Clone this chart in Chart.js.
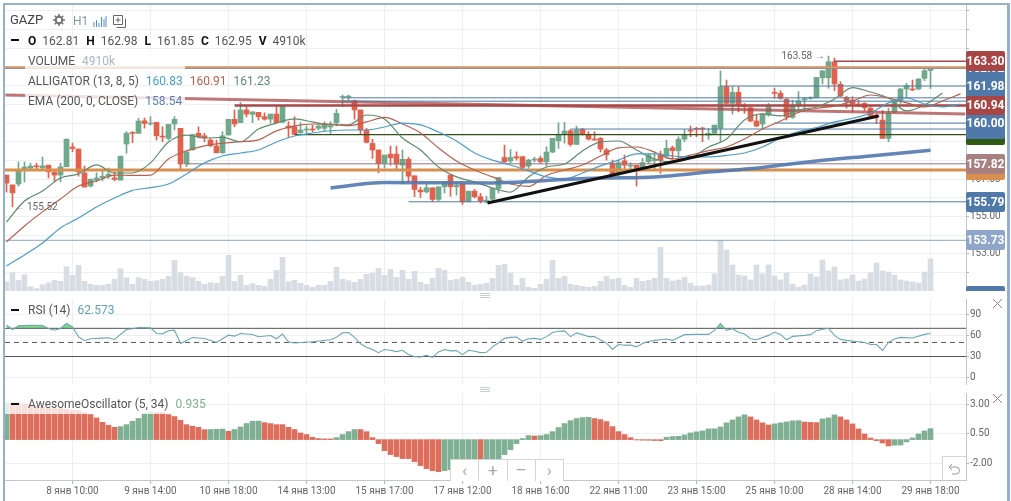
<!DOCTYPE html>
<html>
<head>
<meta charset="utf-8">
<script src="https://cdn.jsdelivr.net/npm/chart.js@4"></script>
<style>
html, body { margin: 0; padding: 0; background: #fff; }
body { width: 1011px; height: 501px; overflow: hidden; position: relative; font-family: Roboto, sans-serif; color: #555; }
canvas { position: absolute; left: 5px; }
#frame { position: absolute; left: 3px; top: 3px; width: 1002px; height: 498px; border: solid #93b2ce; border-width: 2px 3px 0 2px; pointer-events: none; }
.row { position: absolute; left: 28px; height: 20px; line-height: 20px; font-size: 12px; white-space: nowrap; }
.row span { margin-right: 7px; }
.row b { margin-right: 6px; }
.fade { position: absolute; background: rgba(255,255,255,.78); }
b { color: #111; font-weight: 700; }
.dash { position: absolute; left: 11px; width: 8px; height: 2px; background: #111; }
#tags { position: absolute; left: 966px; top: 3px; width: 40px; height: 288px; overflow: hidden; }
.tag { position: absolute; left: 0; width: 39px; height: 20px; line-height: 20px; border-radius: 2px; color: #fff; font-size: 12px; font-weight: 700; text-align: center; }
.note { position: absolute; font-size: 10px; color: #666; white-space: nowrap; line-height: 12px; }
#nav { position: absolute; left: 450px; top: 459px; width: 112px; height: 21px; background: #fff; border: 1px solid #d4d4d4; border-bottom: 0; display: flex; }
#nav div { flex: 1; text-align: center; font-size: 17px; line-height: 21px; color: #aaa; border-right: 1px solid #d4d4d4; }
#nav div:last-child { border-right: 0; }
#undo { position: absolute; left: 942px; top: 456px; width: 23px; height: 23px; background: #fff; border: 1px solid #d4d4d4; border-right: 0; border-bottom: 0; }
.grip { position: absolute; left: 480px; width: 10px; height: 1px; background: #c5ced6; }
svg { position: absolute; }
</style>
</head>
<body>
<canvas id="mainCanvas" width="1001" height="288" style="top:3px"></canvas>
<canvas id="rsiCanvas" width="1001" height="86" style="top:299px"></canvas>
<canvas id="aoCanvas" width="1001" height="108" style="top:393px"></canvas>

<div id="tags"></div>

<div class="row" style="left:10px;top:10px;font-size:13px;color:#444">GAZP</div>
<svg style="left:53px;top:14px" width="12" height="12" viewBox="0 0 12 12"><circle cx="6" cy="6" r="3.3" fill="none" stroke="#777" stroke-width="2.2"/><path d="M6 0v12M0 6h12M1.8 1.8l8.4 8.4M10.2 1.8l-8.4 8.4" stroke="#777" stroke-width="1.6" stroke-dasharray="2 8 2"/></svg>
<div class="row" style="left:73px;top:11px;font-size:12px;color:#8a96a3">H1</div>
<svg style="left:93px;top:15px" width="14" height="12" viewBox="0 0 14 12"><path d="M1 7v5M3.5 5v7M6 8v4M8.500 2v10M11 4v8M13 1v11" stroke="#4f8fc9" stroke-width="1"/></svg>
<svg style="left:113px;top:15px" width="13" height="13" viewBox="0 0 13 13"><path d="M.5.5h9v9h-9zM3.500 12.500h9v-9M5 2.500v5M2.500 5h5" fill="none" stroke="#666"/></svg>

<div class="dash" style="top:39px"></div>
<div class="row" style="top:31px"><b>O</b><span>162.81</span><b>H</b><span>162.98</span><b>L</b><span>161.85</span><b>C</b><span>162.95</span><b>V</b><span>4910k</span></div>

<div class="fade" style="left:25px;top:52px;width:160px;height:18px"></div>
<div class="row" style="top:51px"><span>VOLUME</span><span style="color:#a9b4bf">4910k</span></div>
<div class="row" style="top:71px"><span>ALLIGATOR (13, 8, 5)</span><span style="color:#4b9ec9">160.83</span><span style="color:#b8604f">160.91</span><span style="color:#5f8c6c">161.23</span></div>
<div class="fade" style="left:25px;top:92px;width:160px;height:18px"></div>
<div class="row" style="top:91px"><span>EMA (200, 0, CLOSE)</span><span style="color:#5a7fb5">158.54</span></div>

<div class="note" id="lowNote">&#8592; 155.52</div>
<div class="note" id="highNote">163.58 &#8594;</div>

<div class="grip" style="top:293px"></div><div class="grip" style="top:295px"></div><div class="grip" style="top:297px"></div>
<div class="grip" style="top:387px"></div><div class="grip" style="top:389px"></div><div class="grip" style="top:391px"></div>

<div class="dash" style="top:309px"></div>
<div class="row" style="top:300px"><span>RSI (14)</span><span style="color:#5f9fb2">62.573</span></div>
<svg style="left:992px;top:298px" width="11" height="11"><path d="M1 1l9 9M10 1l-9 9" stroke="#888"/></svg>

<div class="fade" style="left:5px;top:402px;width:200px;height:12px"></div>
<div class="dash" style="top:403px"></div>
<div class="row" style="top:394px"><span>AwesomeOscillator (5, 34)</span><span style="color:#7fb093">0.935</span></div>
<svg style="left:992px;top:393px" width="11" height="11"><path d="M1 1l9 9M10 1l-9 9" stroke="#888"/></svg>

<div id="nav"><div>&#8249;</div><div>+</div><div>&#8211;</div><div>&#8250;</div></div>
<div id="undo"><svg style="left:5px;top:6px" width="13" height="12" viewBox="0 0 13 12"><path d="M4 1L1 4l3 3M1 4h7a3.500 3.500 0 0 1 0 7H4" fill="none" stroke="#999"/></svg></div>
<div id="frame"></div>

<script>
const xTickBars = [11, 24, 37, 50, 63, 76, 89, 102, 115, 128, 141, 154]
const xTickLabels = ['8 янв 10:00', '9 янв 14:00', '10 янв 18:00', '14 янв 13:00', '15 янв 17:00', '17 янв 12:00',
    '18 янв 16:00', '22 янв 11:00', '23 янв 15:00', '25 янв 10:00', '28 янв 14:00', '29 янв 18:00']

// hourly candles, oldest first
const opens = [
    157.22,156.69,156.74,157.49,157.59,157.71,157.61,157.75,157.38,157.22,
    157.66,158.72,158.61,157.33,156.63,156.95,157.06,157.16,157.07,156.95,
    158.88,159.48,159.45,160.12,159.95,160.04,159.30,159.18,159.95,159.72,
    157.81,158.56,159.45,159.32,159.09,158.77,158.41,159.36,160.20,160.02,
    160.70,160.47,160.57,160.34,160.21,160.48,160.04,159.84,159.80,159.48,
    159.63,159.68,159.72,159.72,159.79,160.02,161.37,161.39,161.19,160.70,
    159.63,158.91,158.56,157.84,158.34,158.34,157.75,158.06,157.18,156.42,
    156.32,156.54,155.92,156.59,157.22,156.59,156.74,155.79,156.36,156.06,
    155.81,155.93,156.50,158.16,157.97,158.20,158.20,157.70,158.02,158.11,
    157.93,158.45,159.05,159.40,159.59,158.86,159.66,159.36,159.13,159.18,
    158.56,157.84,157.31,157.98,157.70,157.75,157.58,157.93,157.99,158.29,
    158.24,158.68,158.52,159.14,159.60,159.71,159.73,159.36,159.45,159.72,
    161.94,161.05,161.64,160.96,160.82,160.11,159.95,160.43,161.62,161.59,
    161.27,160.30,160.93,161.25,161.31,161.35,162.42,162.42,163.28,162.07,
    161.37,161.23,161.02,161.05,160.79,160.43,160.16,159.18,160.60,161.19,
    161.82,161.82,161.82,162.39,162.81]
const highs = [
    157.22,156.69,157.92,157.92,157.86,157.86,158.18,157.75,157.40,157.86,
    159.14,158.93,158.61,157.70,157.00,157.34,157.49,157.59,157.39,158.23,
    159.54,159.54,160.25,160.27,160.34,160.04,159.80,159.93,160.34,159.72,
    158.46,159.39,159.80,159.45,159.18,159.09,159.54,160.20,160.70,161.11,
    160.87,160.60,160.57,160.55,160.48,160.91,160.91,160.07,160.34,160.02,
    159.84,159.89,159.98,160.07,160.07,160.73,161.50,161.50,161.23,160.70,
    159.72,159.13,158.56,158.29,158.77,158.77,158.56,158.17,157.18,156.56,
    156.77,156.54,156.59,156.86,157.22,156.81,156.74,156.36,156.45,156.24,
    156.09,156.50,157.09,158.82,158.59,158.46,158.23,158.07,158.17,158.23,
    158.73,159.18,160.02,160.04,159.66,159.84,159.72,159.54,159.54,159.23,
    158.65,158.02,158.02,158.29,157.88,157.75,158.11,158.38,158.46,158.50,
    159.09,158.77,159.27,159.66,159.84,159.77,159.77,159.72,159.89,162.79,
    162.30,161.94,161.94,161.05,160.87,160.43,160.52,161.05,161.87,161.73,
    161.32,161.23,161.68,161.37,161.41,162.44,162.80,163.58,163.48,162.21,
    161.44,161.41,161.23,161.09,160.91,160.48,160.66,160.79,161.27,161.86,
    162.12,162.30,162.39,162.92,162.98]
const lows = [
    156.31,155.52,156.63,156.85,157.49,157.54,157.54,157.06,156.86,156.86,
    157.66,158.46,157.16,156.58,156.58,156.85,156.91,157.04,156.91,156.95,
    158.39,158.95,159.45,159.73,159.89,159.09,159.00,159.09,159.63,157.52,
    157.66,158.56,159.20,159.00,158.73,158.41,158.38,159.36,159.80,160.02,
    160.34,160.02,160.16,160.16,160.00,160.02,160.04,159.23,159.40,159.45,
    159.46,159.53,159.63,159.59,159.45,159.84,160.87,161.23,160.20,159.41,
    158.93,158.11,157.34,157.59,157.75,157.49,156.74,156.86,156.06,156.02,
    156.26,155.79,155.84,156.26,156.09,156.15,155.65,155.79,155.99,155.72,
    155.72,155.88,156.26,157.88,157.86,158.02,157.52,157.59,157.92,157.84,
    157.70,158.41,158.65,158.93,158.77,158.86,159.36,159.09,159.09,158.46,
    158.02,157.13,157.13,157.33,157.52,156.63,157.52,157.84,157.52,157.31,
    158.11,158.06,158.11,159.00,159.27,159.27,159.00,159.13,159.41,159.00,
    161.02,160.48,160.60,160.52,160.07,159.80,159.72,160.37,161.32,161.27,
    160.16,160.25,160.70,160.70,161.27,161.35,162.09,161.86,161.73,161.41,
    160.80,160.60,160.87,160.66,160.34,159.98,159.18,159.00,160.55,161.05,
    161.37,161.73,161.77,162.27,161.85]
const closes = [
    156.79,156.27,157.45,157.65,157.70,157.66,157.71,157.39,157.22,157.66,
    159.14,158.64,157.38,156.58,157.00,157.06,157.16,157.27,156.99,158.23,
    159.45,159.45,160.11,159.98,159.98,159.32,159.25,159.93,160.20,157.81,
    158.46,159.39,159.27,159.21,158.79,158.41,159.32,160.20,159.95,160.70,
    160.48,160.60,160.34,160.21,160.48,160.02,160.91,159.73,159.40,159.63,
    159.68,159.63,159.84,159.95,159.82,160.52,161.41,161.42,160.70,159.63,
    158.97,158.56,157.84,158.29,158.14,157.81,158.06,157.16,156.45,156.32,
    156.54,155.92,156.59,156.86,156.59,156.68,155.79,156.36,156.06,155.84,
    155.88,156.50,157.09,157.93,158.16,158.13,157.63,158.02,158.06,157.93,
    158.45,159.18,159.40,159.57,158.86,159.63,159.40,159.14,159.09,158.61,
    158.31,157.22,157.88,157.75,157.75,157.52,157.88,158.29,158.05,158.02,
    158.65,158.52,159.13,159.39,159.57,159.66,159.68,159.45,159.89,161.94,
    161.05,161.64,161.00,160.87,160.11,159.84,160.48,160.93,161.59,161.32,
    160.34,160.93,161.18,161.29,161.34,162.44,162.80,163.28,162.09,161.44,
    161.19,161.02,160.93,160.82,160.37,160.32,159.18,160.52,161.23,161.82,
    162.00,161.77,162.35,162.80,162.95]

// volume in thousands
const volumes = [
    1430,2810,1640,2500,660,360,970,1280,1640,1480,
    3730,2400,3930,1480,1020,870,870,1020,1790,3420,
    2040,1020,2040,1790,1480,1580,1790,2250,4700,2810,
    2250,2040,1480,1020,1280,1180,2250,5470,1480,2400,
    870,1120,870,720,1790,3170,5160,1430,1640,1180,
    870,560,870,870,1480,3630,1790,1580,1330,1790,
    2560,2710,3470,2400,3320,2100,3170,1790,3010,1330,
    1020,1940,3470,3170,1640,1790,2100,1330,870,1020,
    1180,1940,3930,4090,2710,870,1940,560,410,1020,
    1790,4700,1940,2250,1020,870,720,560,720,1480,
    2250,1790,1940,870,560,1940,1480,1640,1940,6690,
    1940,1530,1690,2100,1180,770,770,920,2610,7720,
    6290,3990,2450,2300,1690,3990,2610,3990,2300,1690,
    2760,1070,610,920,2610,2150,4750,3070,3680,1690,
    1840,2450,1530,1840,2760,4290,3070,2910,2450,1690,
    1530,1380,1230,2910,4910]

// alligator lines, one reading every third bar (they run past the last candle)
const lipsValues = [154.71,155.83,156.37,157.06,157.28,157.76,157.33,157.33,157.87,158.99,159.36,159.20,159.23,159.00,159.68,160.00,
    160.22,160.06,159.90,159.90,160.43,160.22,159.20,158.56,157.65,157.12,156.85,156.53,156.31,157.12,157.65,157.81,158.51,158.99,
    159.04,158.56,158.08,157.92,158.13,158.72,159.15,160.17,160.49,160.38,160.70,160.86,161.29,161.90,161.66,161.34,160.65,160.97,161.61]
const teethValues = [153.64,154.50,155.25,155.94,156.63,156.90,157.22,157.20,157.22,158.08,158.51,158.78,158.93,159.00,159.10,159.58,
    159.85,159.95,159.95,159.86,160.06,160.30,159.95,159.47,158.67,157.97,157.49,157.12,156.74,156.61,157.20,157.49,157.76,158.24,
    158.67,158.72,158.45,158.08,158.29,158.53,158.72,159.15,159.68,160.11,160.57,160.78,160.91,161.18,161.50,161.34,161.08,160.86,161.18,161.56]
const jawValues = [152.36,152.95,153.59,154.39,154.92,155.51,155.99,156.40,156.55,156.74,157.28,157.87,158.24,158.40,158.56,158.99,
    159.31,159.47,159.59,159.63,159.63,159.79,160.00,159.90,159.52,159.04,158.40,158.02,157.76,157.44,157.12,157.01,157.33,157.71,
    158.02,158.35,158.35,158.24,158.20,158.19,158.27,158.40,158.72,159.20,159.55,159.76,160.06,160.25,160.54,161.08,161.34,161.02,160.86,161.02]
const alligatorStep = 3

const emaBars = [54, 63, 72, 81, 90, 99, 108, 117, 126, 135, 144, 154]
const emaValues = [156.53, 156.82, 156.81, 156.80, 156.93, 157.06, 157.12, 157.38, 157.63, 157.97, 158.24, 158.54]

const trendBars = [80.17, 145.33]
const trendPrices = [155.73, 160.38]
const slopeBars = [-0.2, 159.8]
const slopePrices = [161.50, 160.49]

// horizontal levels: price and the bar each one starts from
const levelPrices = [163.30, 162.99, 162.92, 161.98, 161.35, 161.17, 160.94, 160.00, 159.68, 159.38, 157.82, 157.49, 155.79, 153.73]
const levelStarts = [138, -1, -1, 119, 56, 56, 38, 128, 94, 48, 30, -1, 67, -1]

// price tags down the axis, later ones sit on top
const tagPrices = [150.75, 153.73, 155.79, 157.49, 157.82, 159.38, 159.68, 160.00, 161.17, 161.35, 160.94, 162.92, 161.98, 163.30]

const rsiBars = [0,1,2,4,6,7,8,9,10,11,12,13,14,16,17,18,20,21,22,24,25,26,27,28,29,31,33,35,37,38,39,41,42,44,45,46,47,48,51,
    54,55,56,57,58,59,60,61,62,63,64,65,66,67,68,69,70,71,72,73,74,75,76,77,78,79,80,81,82,83,84,85,86,87,88,89,90,91,92,93,94,95,
    96,97,98,99,100,101,102,103,104,105,106,107,108,109,110,111,113,115,117,118,119,120,121,122,123,124,125,127,128,129,130,131,
    133,134,135,136,137,138,139,140,142,143,144,145,146,147,148,149,151,153,154]
const rsiValues = [74.4,68.3,73.5,74.4,74,69.7,67.4,69.7,76.8,72.1,58,52.4,55.2,56.1,56.6,54.2,68.3,69.3,71.2,70.7,62.7,62.2,66.5,67.4,48.6,57,55.6,50,60.3,58.9,62.7,61.3,58,59.9,55.2,61.8,50.9,49.1,50.9,
    53.9,57.2,63.5,64,57.2,48,43.3,39.9,35.5,39.9,38.9,37,38.9,33,29.8,29.3,31.7,28.8,36.5,39.9,38,38.4,32.6,38.9,37.5,35.5,36,43.7,49.5,55.8,57.2,57.7,51.9,55.3,55.8,54.3,58.2,64,65.9,66.4,58.2,63.5,
    61.1,58.2,58.2,53.4,49,40.4,47.1,46.1,46.1,43.7,48.6,51.4,52.9,53.9,54.8,52.9,61,61.4,61.4,67,76.7,67,69.5,64.3,61.9,55.2,53.8,60,64.3,61.4,53.8,58.6,
    60,61,66.7,68.6,70,60,54.3,52.9,51,50,47,47,38.6,50,54.8,57.1,56.2,61.4,62.573]
const rsiLevels = [70, 50, 30]

const aoValues = [
    3.14,3.14,3.14,3.05,2.99,2.85,2.76,2.71,2.65,2.65,
    2.59,2.54,2.48,2.31,2.14,1.85,1.48,1.23,1.05,1.11,
    1.28,1.57,1.80,2.22,2.34,2.34,2.34,2.14,1.97,1.65,
    1.28,1.14,1.05,0.85,0.86,0.88,0.90,0.71,0.86,1.08,
    1.37,1.57,1.58,1.45,1.37,1.28,1.28,1.05,0.86,0.57,
    0.43,0.20,0.09,0.06,0.06,0.17,0.43,0.68,0.86,0.86,
    0.68,0.17,-0.34,-0.94,-1.28,-1.45,-1.62,-1.62,-1.88,-2.22,
    -2.48,-2.65,-2.74,-2.65,-2.57,-2.14,-2.00,-1.91,-1.80,-1.85,
    -1.78,-1.72,-1.66,-1.28,-0.86,-0.34,0.09,0.34,0.31,0.34,
    0.43,0.68,1.03,1.37,1.62,1.80,1.88,1.90,1.80,1.71,
    1.54,1.11,0.68,0.43,0.17,-0.03,-0.05,-0.06,-0.08,-0.09,
    0.20,0.26,0.28,0.40,0.57,0.66,0.74,0.91,0.92,1.08,
    1.43,1.68,1.94,2.11,1.94,1.68,1.43,1.25,1.34,1.43,
    1.51,1.60,1.62,1.50,1.47,1.45,1.77,1.85,2.11,1.94,
    1.68,1.34,0.91,0.48,0.14,-0.09,-0.29,-0.54,-0.48,-0.46,
    -0.20,0.14,0.48,0.74,0.935]

////////////
// Styles //
////////////

const green = '#6fa88b'
const red = '#e2604c'
const gridColor = '#edf0f3'
const axisColor = '#bcc8d2'
const tickFont = { family: 'Roboto', size: 10 }
const levelColors = ['#a84848', '#d9955c', '#6f8db0', '#4d7ba8', '#4d7ba8', '#4d7ba8', '#a84848', '#4d7ba8', '#4d7ba8', '#33501a', '#94727e', '#d98f4e', '#4d7ba8', '#8fa5c4']
const levelWidths = [1.5, 2, 1, 1, 1, 1, 2.5, 1, 1, 1.2, 1, 3, 1, 1]
const tagColors = ['#4f79a8', '#8fa5c9', '#4f79a8', '#d98f4e', '#a98080', '#2f5a12', '#4f79a8', '#4f79a8', '#4f79a8', '#4f79a8', '#a84545', '#4f79a8', '#4f79a8', '#a84545']

// 6px per bar across the 961px pane, centres on half pixels so bar edges stay crisp
const xMin = -0.25
const xMax = xMin + 961 / 6

function pairs(xs, ys) {
    return ys.map((y, i) => ({ x: xs[i], y: y }))
}

function stepped(values) {
    return values.map((y, i) => ({ x: i * alligatorStep, y: y }))
}

function xScale(showLabels) {
    return {
        type: 'linear',
        offset: false,
        min: xMin,
        max: xMax,
        afterBuildTicks(scale) { scale.ticks = xTickBars.map(v => ({ value: v })) },
        afterFit(scale) {
            scale.height = showLabels ? 21 : 0
            scale.paddingLeft = scale.paddingRight = 0
        },
        border: { display: showLabels, color: axisColor },
        grid: { color: gridColor, drawTicks: showLabels, tickLength: 4, tickColor: '#aab6c0', offset: false },
        ticks: {
            display: showLabels,
            autoSkip: false,
            maxRotation: 0,
            padding: 1,
            color: '#666',
            font: tickFont,
            callback: v => xTickLabels[xTickBars.indexOf(v)]
        }
    }
}

function yScale(min, max, values, format) {
    return {
        position: 'right',
        min: min,
        max: max,
        afterBuildTicks(scale) { scale.ticks = values.map(v => ({ value: v })) },
        afterFit(scale) {
            scale.width = 40
            scale.paddingTop = scale.paddingBottom = 0
        },
        border: { color: axisColor },
        grid: { color: gridColor, tickLength: 3, tickColor: '#aab6c0' },
        ticks: { autoSkip: false, padding: 1, color: '#666', font: tickFont, callback: format }
    }
}

function lineSet(data, color, width, order, extra) {
    return Object.assign({
        type: 'line',
        data: data,
        borderColor: color,
        borderWidth: width,
        pointRadius: 0,
        fill: false,
        order: order
    }, extra)
}

const baseOptions = {
    responsive: false,
    animation: false,
    events: [],
    layout: { padding: 0 },
    plugins: {
        legend: { display: false },
        tooltip: { enabled: false },
        filler: { drawTime: 'beforeDatasetsDraw' }
    }
}

////////////////
// Main chart //
////////////////

const bars = opens.map((_, i) => i)
const candleColors = opens.map((o, i) => closes[i] >= o ? green : red)

const levelSets = levelPrices.map((price, i) => lineSet(
    [{ x: levelStarts[i], y: price }, { x: xMax, y: price }], levelColors[i], levelWidths[i], 3))

const mainChart = new Chart('mainCanvas', {
    data: {
        datasets: [
            {
                type: 'bar',
                yAxisID: 'volume',
                data: volumes.map((v, i) => ({ x: i, y: v })),
                backgroundColor: '#d7dde3',
                barThickness: 5,
                grouped: false,
                order: 9
            },
            {
                type: 'bar',
                data: bars.map(i => ({ x: i, y: [lows[i], highs[i]] })),
                backgroundColor: candleColors,
                barThickness: 1,
                grouped: false,
                order: 5
            },
            {
                type: 'bar',
                data: bars.map(i => ({ x: i, y: [opens[i], closes[i]] })),
                backgroundColor: candleColors,
                barThickness: 5,
                minBarLength: 1,
                grouped: false,
                order: 4
            },
            ...levelSets,
            lineSet(pairs(slopeBars, slopePrices), 'rgba(168,72,72,.75)', 3, 3),
            lineSet(stepped(jawValues), '#4b9ec9', 1.2, 2, { cubicInterpolationMode: 'monotone' }),
            lineSet(stepped(teethValues), '#b8604f', 1.2, 2, { cubicInterpolationMode: 'monotone' }),
            lineSet(stepped(lipsValues), '#5f8c6c', 1.2, 2, { cubicInterpolationMode: 'monotone' }),
            lineSet(pairs(emaBars, emaValues), 'rgba(82,120,176,.9)', 3.5, 1, { cubicInterpolationMode: 'monotone' }),
            lineSet(pairs(trendBars, trendPrices), '#111', 3, 0)
        ]
    },
    options: Object.assign({}, baseOptions, {
        scales: {
            x: xScale(false),
            y: yScale(151.02, 166.42, [152, 153, 154, 155, 156, 157, 158, 159, 160, 161, 162, 163, 164, 165, 166],
                v => v % 2 && v < 164 ? v.toFixed(2) : ''),
            volume: { display: false, min: 0, max: 44150 }
        }
    })
})

///////////////
// RSI chart //
///////////////

new Chart('rsiCanvas', {
    type: 'line',
    data: {
        datasets: [
            lineSet(pairs(rsiBars, rsiValues), '#6ea6b5', 1.1, 0, {
                fill: { target: { value: 70 }, above: '#7fdc8c', below: 'transparent' }
            }),
            ...rsiLevels.map((level, i) => lineSet(
                [{ x: xMin, y: level }, { x: xMax, y: level }], '#555', 1, 1, { borderDash: i === 1 ? [5, 4] : [] }))
        ]
    },
    options: Object.assign({}, baseOptions, {
        scales: {
            x: xScale(false),
            y: yScale(-10.4, 111.6, [0, 30, 60, 90], v => String(v))
        }
    })
})

////////////////////////////
// Awesome Oscillator bars //
////////////////////////////

new Chart('aoCanvas', {
    type: 'bar',
    data: {
        datasets: [{
            data: aoValues.map((v, i) => ({ x: i, y: v })),
            // rising bars green, falling bars red
            backgroundColor: aoValues.map((v, i) => i === 0 || v > aoValues[i - 1] ? '#7fb093' : '#de6e5c'),
            barThickness: 5,
            grouped: false
        }]
    },
    options: Object.assign({}, baseOptions, {
        scales: {
            x: xScale(true),
            y: yScale(-3.45, 3.98, [-2, 0.5, 3], v => v.toFixed(2))
        }
    })
})

/////////////////////////////
// Text tied to main scales //
/////////////////////////////

const tagBox = document.getElementById('tags')
tagPrices.forEach((price, i) => {
    const tag = document.createElement('div')
    tag.className = 'tag'
    tag.textContent = price.toFixed(2)
    tag.style.background = tagColors[i]
    tag.style.top = (mainChart.scales.y.getPixelForValue(price) - 10) + 'px'
    tagBox.appendChild(tag)
})

function pinNote(id, bar, price, shift) {
    const note = document.getElementById(id)
    note.style.left = (5 + mainChart.scales.x.getPixelForValue(bar) + shift) + 'px'
    note.style.top = (3 + mainChart.scales.y.getPixelForValue(price) - 6) + 'px'
}

pinNote('lowNote', 1, 155.52, 2)
pinNote('highNote', 137, 163.58, -47)
</script>
</body>
</html>
